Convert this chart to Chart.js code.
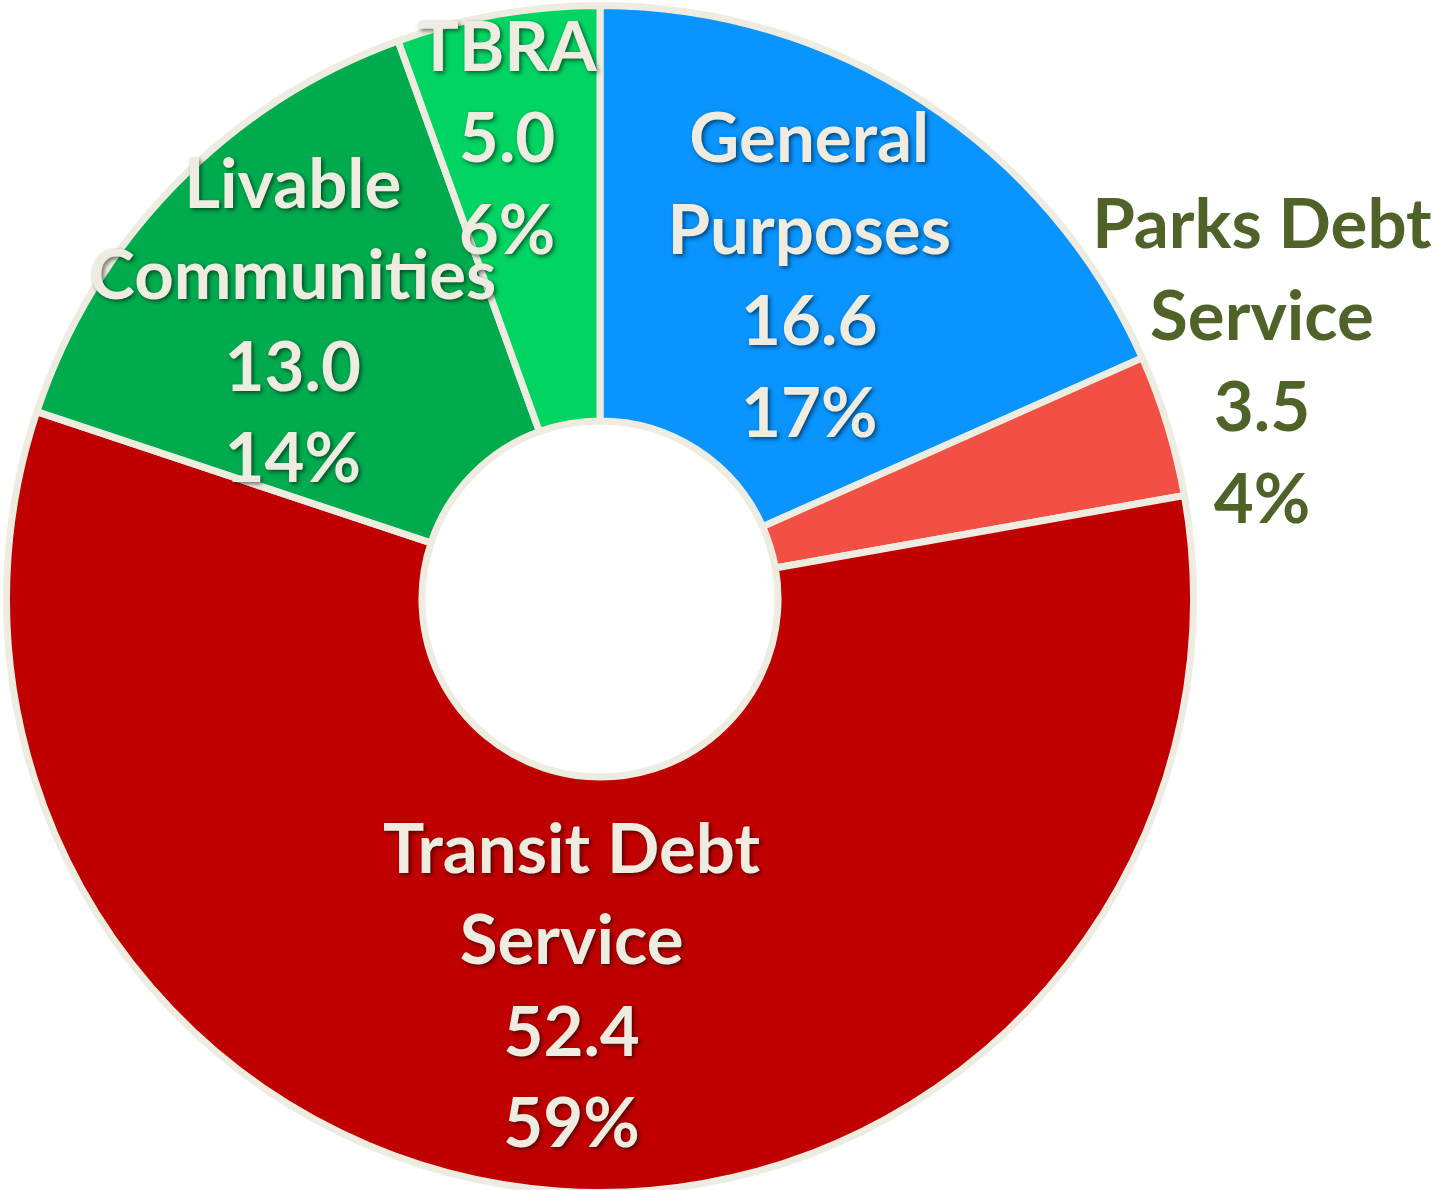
<!DOCTYPE html>
<html>
<head>
<meta charset="utf-8">
<script src="https://cdn.jsdelivr.net/npm/chart.js@4.4.1/dist/chart.umd.min.js"></script>
<style>
    html, body { margin: 0; padding: 0; background: #ffffff; overflow: hidden; }
    #fundChart { display: block; }
</style>
</head>
<body>
<canvas id="fundChart" width="1437" height="1200"></canvas>
<script>
// Dữ liệu biểu đồ
const categories = [["General", "Purposes"], ["Parks Debt", "Service"], ["Transit Debt", "Service"], ["Livable", "Communities"], ["TBRA"]];
const amounts = [16.6, 3.5, 52.4, 13.0, 5.0];
const percentLabels = ["17%", "4%", "59%", "14%", "6%"];

const sliceColors = ["#0994ff", "#f24f45", "#c00000", "#00ab4e", "#00d463"];
const labelColors = ["#eeece1", "#4f6228", "#eeece1", "#eeece1", "#eeece1"];
const labelShadow = [true, false, true, true, true];
// vị trí nhãn: hệ số bán kính và độ lệch góc (độ)
const labelRadius = [0.647, 1.184, 0.657, 0.696, 0.789];
const labelAngleShift = [0, -2.6, 0, -2.3, -1.5];

const sliceLabels = {
    id: "sliceLabels",
    afterDatasetsDraw: (chart) => {
        const {ctx} = chart;
        const arcs = chart.getDatasetMeta(0).data;
        const lineHeight = 91.5;

        arcs.forEach((arc, i) => {
            const mid = (arc.startAngle + arc.endAngle) / 2 + labelAngleShift[i] * Math.PI / 180;
            const r = arc.outerRadius * labelRadius[i];
            const x = arc.x + Math.cos(mid) * r;
            const y = arc.y + Math.sin(mid) * r;
            const lines = [...categories[i], amounts[i].toFixed(1), percentLabels[i]];

            ctx.save();
            ctx.font = "bold 69px Lato";
            ctx.textAlign = "center";
            ctx.textBaseline = "middle";
            ctx.fillStyle = labelColors[i];
            if (labelShadow[i]) {
                ctx.shadowColor = "rgba(0, 0, 0, 0.55)";
                ctx.shadowBlur = 4;
                ctx.shadowOffsetX = 2;
                ctx.shadowOffsetY = 2;
            }
            lines.forEach((line, k) => {
                ctx.fillText(line, x, y + (k - (lines.length - 1) / 2) * lineHeight);
            });
            ctx.restore();
        });
    },
};

new Chart(document.getElementById("fundChart").getContext("2d"), {
    type: "doughnut",
    data: {
        labels: categories.map(c => c.join(" ")),
        datasets: [{
            data: amounts,
            backgroundColor: sliceColors,
            borderColor: "#eeece1",
            borderWidth: 7,
        }]
    },
    plugins: [sliceLabels],
    options: {
        responsive: false,
        animation: false,
        cutout: "30%",
        layout: {
            padding: {left: 3, right: 240, top: 2, bottom: 4},
        },
        plugins: {
            legend: {display: false},
            tooltip: {enabled: false},
        },
    },
});
</script>
</body>
</html>
